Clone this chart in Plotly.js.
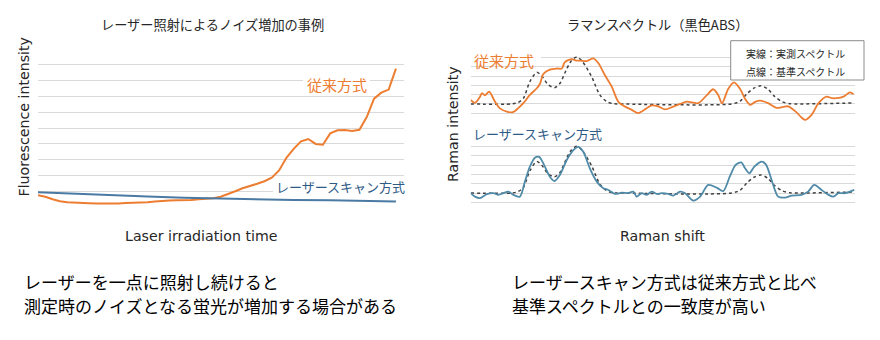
<!DOCTYPE html>
<html>
<head>
<meta charset="utf-8">
<script src="https://cdn.plot.ly/plotly-3.0.1.min.js"></script>
<style>
html,body{margin:0;padding:0;background:#fff;}
#chart{width:880px;height:340px;}
</style>
</head>
<body>
<div id="chart"></div>
<script>
// ---------- Left chart: fluorescence vs laser irradiation time ----------
const timeIndex = [0,1,2,3,4,5,6,7,8,9,10,11,12,13,14,15,16,17,18,19,20,21,22,23,24,25,26,27,28,29,30,31,32,33,34,35,36,37,38,39,40,41,42,43,44,45,46,47,48,49];
const conventionalFluor = [0.78,0.69,0.53,0.41,0.34,0.31,0.29,0.28,0.27,0.26,0.27,0.27,0.29,0.30,0.31,0.34,0.39,0.44,0.45,0.46,0.46,0.48,0.53,0.56,0.59,0.69,0.84,1.03,1.22,1.34,1.50,1.66,1.88,2.34,3.13,3.69,4.16,4.31,4.00,3.95,4.66,4.86,4.88,4.81,4.89,5.69,6.84,7.22,7.41,8.73];
const scanTimeIndex = [0,5,10,15,20,25,30,35,40,45,49];
const scanFluor = [0.97,0.87,0.77,0.70,0.62,0.56,0.51,0.48,0.46,0.42,0.39];

// ---------- Right chart: Raman spectra (black ABS) ----------
const convShift = [0,1.1,2.4,2.9,3.7,4.8,6.3,7.6,9.4,11.0,12.3,13.7,15.4,17.2,18.0,18.9,20.6,22.4,23.7,24.5,26.3,27.4,28.4,30.2,31.9,33.2,34.9,36.7,38.4,40.2,41.9,43.6,45.8,47.1,48.8,50.6,52.7,54.5,56.2,57.6,59.2,61.4,63.1,64.4,65.4,67.0,68.5,70.1,71.4,72.7,74.0,75.3,77.4,79.6,81.3,82.6,84.8,85.9,87.0,88.7,90.5,92.6,94.0,95.2,97.0,98.7,99.6];
const convRaman = [2.43,2.11,2.75,3.15,2.92,3.32,2.25,1.52,1.18,1.11,1.52,2.08,2.97,3.69,4.15,5.22,5.70,5.81,5.81,6.51,6.83,6.67,6.67,6.61,6.90,6.40,5.11,3.86,2.25,1.71,1.36,1.01,1.54,1.84,1.74,1.41,1.71,2.00,2.25,2.17,2.08,2.92,3.58,2.97,2.08,3.61,4.31,3.61,2.54,1.90,2.22,2.36,2.08,1.58,1.68,1.74,1.09,0.61,0.29,0.83,2.08,2.79,2.62,2.62,2.79,3.24,3.04];

const scanShift = [0,1.1,2.4,4.2,5.9,7.2,8.5,9.8,11.1,12.8,14.1,15.4,16.7,17.8,18.9,20.6,21.8,23.2,25.0,26.7,28.0,29.3,31.0,32.8,34.5,35.8,37.5,39.3,41.0,42.3,43.2,44.5,45.8,47.1,48.4,49.7,51.4,52.7,54.5,55.8,57.9,59.7,61.8,64.0,65.7,67.4,68.9,70.4,71.4,72.5,73.8,75.6,76.8,78.3,80.0,81.8,83.5,86.1,87.8,89.4,91.3,93.1,94.4,95.7,97.4,98.7,99.8];
const scanRaman = [1.98,1.61,1.44,1.87,1.98,1.80,1.98,2.15,1.80,1.61,3.23,4.84,5.81,5.91,5.20,3.76,3.30,3.95,5.56,6.63,6.99,6.45,4.67,3.23,2.52,2.33,1.90,2.04,1.98,2.15,1.61,1.98,1.80,2.15,1.90,1.98,1.90,1.72,2.15,1.98,1.18,1.61,2.87,2.58,2.20,3.76,5.02,5.31,4.67,4.13,4.84,5.38,5.10,3.41,1.61,1.51,1.72,1.80,2.15,2.87,2.33,1.80,1.61,1.98,1.98,2.15,2.33];

const refShift = [0,10.7,12.3,13.7,15.4,17.2,18.5,20.1,21.8,23.2,24.8,26.1,27.6,29.0,31.5,33.6,35.4,37.0,38.8,67.9,70.1,71.9,73.7,75.5,77.3,79.1,81.0,83.0,85.7,99.2];
const refRaman = [2.0,2.0,2.15,2.6,4.4,5.4,5.0,4.1,3.75,4.2,5.6,6.6,7.05,6.6,4.9,2.97,2.25,2.03,2.0,2.0,2.3,3.1,3.7,3.95,3.6,2.8,2.25,2.03,2.0,2.1];

// ---------- Text ----------
const leftTitle = 'レーザー照射によるノイズ増加の事例';
const rightTitle = 'ラマンスペクトル（黒色ABS）';
const leftYTitle = 'Fluorescence intensity';
const leftXTitle = 'Laser irradiation time';
const rightYTitle = 'Raman intensity';
const rightXTitle = 'Raman shift';
const labelConv = '従来方式';
const labelScan = 'レーザースキャン方式';
const legendLine1 = '実線：実測スペクトル';
const legendLine2 = '点線：基準スペクトル';
const noteLeft = ['レーザーを一点に照射し続けると', '測定時のノイズとなる蛍光が増加する場合がある'];
const noteRight = ['レーザースキャン方式は従来方式と比べ', '基準スペクトルとの一致度が高い'];

// ---------- Layout helpers (page pixels -> paper fractions) ----------
const W = 880, H = 340;
const px = x => x / W;
const py = y => 1 - y / H;

const ORANGE = '#ED7D31';
const BLUE_L = '#4A7AA3';
const BLUE_R = '#4F8AA8';
const GRID = '#D9D9D9';
const JP = '"Noto Sans CJK JP", "Noto Sans", sans-serif';
const EN = '"DejaVu Sans", "Noto Sans", sans-serif';

// plot-area pixel extents and ranges of the three subplots
const SUB = {
  '':  {x0:38,    x1:404, y0:48,    y1:208,   xr:[0, 50.1], yr:[-0.02, 10.02]},
  '2': {x0:470.7, x1:855, y0:48,    y1:122.7, xr:[0, 100],  yr:[-0.02, 8.02]},
  '3': {x0:470.7, x1:855, y0:137.3, y1:211.7, xr:[0, 100],  yr:[-0.02, 8.02]}
};

function hiddenX(k) {
  const s = SUB[k];
  return {domain:[px(s.x0), px(s.x1)], range:s.xr, anchor:'y'+k, showgrid:false, zeroline:false,
          showline:false, showticklabels:false, ticks:'', fixedrange:true};
}
function gridY(k) {
  const s = SUB[k];
  return {domain:[py(s.y1), py(s.y0)], range:s.yr, anchor:'x'+k, showgrid:true, gridcolor:GRID, gridwidth:1,
          dtick:1, tick0:0, zeroline:false, showline:false, showticklabels:false,
          ticks:'', fixedrange:true};
}
// white patch behind a label: hides gridlines but stays under the traces
function patch(k, x0, x1, y0, y1) {
  const s = SUB[k];
  const fx = v => s.xr[0] + (v - s.x0) / (s.x1 - s.x0) * (s.xr[1] - s.xr[0]);
  const fy = v => s.yr[0] + (s.y1 - v) / (s.y1 - s.y0) * (s.yr[1] - s.yr[0]);
  return {type:'rect', xref:'x'+k, yref:'y'+k,
          x0:fx(x0), x1:fx(x1), y0:fy(y1), y1:fy(y0),
          line:{width:0}, fillcolor:'#fff', layer:'between'};
}

const traces = [
  {x: timeIndex, y: conventionalFluor, xaxis:'x', yaxis:'y', mode:'lines',
   line:{color:ORANGE, width:2}, hoverinfo:'skip'},
  {x: scanTimeIndex, y: scanFluor, xaxis:'x', yaxis:'y', mode:'lines',
   line:{color:BLUE_L, width:2}, hoverinfo:'skip'},
  {x: refShift, y: refRaman, xaxis:'x2', yaxis:'y2', mode:'lines',
   line:{color:'#404040', width:1.5, dash:'3px,3px', shape:'spline', smoothing:0.8}, hoverinfo:'skip'},
  {x: convShift, y: convRaman, xaxis:'x2', yaxis:'y2', mode:'lines',
   line:{color:ORANGE, width:1.8, shape:'spline', smoothing:0.8}, hoverinfo:'skip'},
  {x: refShift, y: refRaman, xaxis:'x3', yaxis:'y3', mode:'lines',
   line:{color:'#404040', width:1.5, dash:'3px,3px', shape:'spline', smoothing:0.8}, hoverinfo:'skip'},
  {x: scanShift, y: scanRaman, xaxis:'x3', yaxis:'y3', mode:'lines',
   line:{color:BLUE_R, width:1.8, shape:'spline', smoothing:0.8}, hoverinfo:'skip'}
];

function txt(text, x, y, size, color, extra, family) {
  return Object.assign({text, x:px(x), y:py(y), xref:'paper', yref:'paper',
    showarrow:false, xanchor:'center', yanchor:'middle',
    font:{family: family || JP, size, color}}, extra || {});
}

const annotations = [
  txt(leftTitle, 212.5, 25, 13.2, '#262626'),
  txt(rightTitle, 657, 25, 13.2, '#262626'),
  txt(leftXTitle, 201.5, 236, 14.2, '#262626', null, EN),
  txt(rightXTitle, 662, 236, 14.2, '#262626', null, EN),
  txt(leftYTitle, 23.5, 117, 14.2, '#262626', {textangle:-90}, EN),
  txt(rightYTitle, 453, 124, 14.2, '#262626', {textangle:-90}, EN),
  txt(labelConv, 337, 84.5, 15, ORANGE),
  txt(labelScan, 340, 186, 13, '#2E5A86'),
  txt(labelConv, 504, 60, 15, ORANGE),
  txt(labelScan, 537, 133.5, 13, '#2E5A86'),
  txt(legendLine1, 795, 53.3, 10, '#262626'),
  txt(legendLine2, 795, 71.7, 10, '#262626'),
  txt(noteLeft[0], 22, 281, 17, '#000', {xanchor:'left'}),
  txt(noteLeft[1], 22, 305.8, 17, '#000', {xanchor:'left'}),
  txt(noteRight[0], 510, 281, 17, '#000', {xanchor:'left'}),
  txt(noteRight[1], 510, 305.8, 17, '#000', {xanchor:'left'})
];

const shapes = [
  {type:'rect', xref:'paper', yref:'paper', x0:px(730.7), x1:px(864), y0:py(80), y1:py(40.7),
   line:{color:'#8C8C8C', width:1}, fillcolor:'#fff', layer:'above'},
  patch('', 303, 370, 76, 93),
  patch('', 273, 405, 177, 195),
  patch('2', 465, 541, 44, 64),
  patch('2', 465, 617, 116, 126),
  patch('3', 465, 617, 134, 142)
];

const layout = {
  width:W, height:H, margin:{l:0,r:0,t:0,b:0},
  paper_bgcolor:'#fff', plot_bgcolor:'rgba(0,0,0,0)', showlegend:false,
  xaxis: hiddenX(''), yaxis: gridY(''),
  xaxis2: hiddenX('2'), yaxis2: gridY('2'),
  xaxis3: hiddenX('3'), yaxis3: gridY('3'),
  annotations, shapes
};

Plotly.newPlot('chart', traces, layout, {staticPlot:true, displayModeBar:false});
</script>
</body>
</html>
